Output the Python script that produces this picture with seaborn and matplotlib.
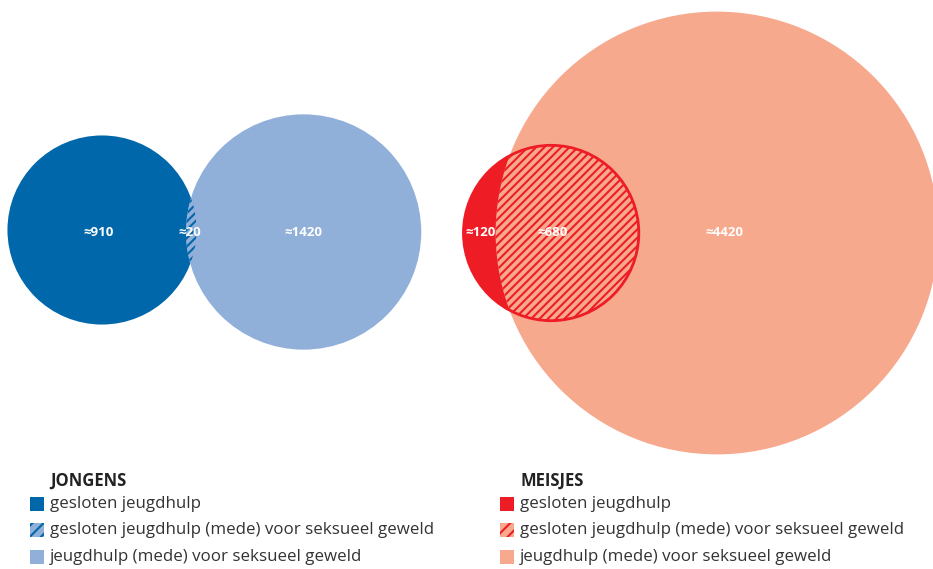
import numpy as np
import matplotlib
matplotlib.use('Agg')
import matplotlib.pyplot as plt
from matplotlib.patches import Circle, Rectangle
import seaborn as sns

# counts per group: only set A, overlap, only set B
jongens_counts = [910, 20, 1420]
meisjes_counts = [120, 680, 4420]
legend_labels = ['gesloten jeugdhulp',
                 'gesloten jeugdhulp (mede) voor seksueel geweld',
                 'jeugdhulp (mede) voor seksueel geweld']
group_titles = ['JONGENS', 'MEISJES']

blue_dark, blue_light = '#0067AB', '#90AFD9'
red, salmon = '#EE1C25', '#F7A98D'

sns.set_style('white')
plt.rcParams['font.family'] = ['Open Sans', 'DejaVu Sans']
plt.rcParams['hatch.linewidth'] = 1.5

K = 3.1  # px per sqrt(count)


def lens_area(r1, r2, d):
    if d >= r1 + r2:
        return 0.0
    if d <= abs(r1 - r2):
        return np.pi * min(r1, r2) ** 2
    a1 = r1**2 * np.arccos((d**2 + r1**2 - r2**2) / (2 * d * r1))
    a2 = r2**2 * np.arccos((d**2 + r2**2 - r1**2) / (2 * d * r2))
    a3 = 0.5 * np.sqrt((-d + r1 + r2) * (d + r1 - r2) * (d - r1 + r2) * (d + r1 + r2))
    return a1 + a2 - a3


def solve_dist(r1, r2, target):
    lo, hi = abs(r1 - r2) + 1e-6, r1 + r2
    for _ in range(80):
        mid = (lo + hi) / 2
        if lens_area(r1, r2, mid) > target:
            lo = mid
        else:
            hi = mid
    return (lo + hi) / 2


fig = plt.figure(figsize=(9.33, 5.69), dpi=100)
ax = fig.add_axes([0, 0, 1, 1])
ax.set_xlim(0, 933)
ax.set_ylim(569, 0)
ax.set_aspect('equal')
ax.axis('off')

lab_kw = dict(color='white', fontsize=9.5, fontweight='bold', ha='center', va='center')

# ---- jongens ----
a, ab, b = jongens_counts
rA = K * np.sqrt(a + ab)
rB = K * np.sqrt(b + ab)
dJ = solve_dist(rA, rB, np.pi * K**2 * ab)
cA = (102, 230)
cB = (102 + dJ + 2, 232)
circA = Circle(cA, rA, fc=blue_dark, ec='none')
circB = Circle(cB, rB, fc=blue_light, ec='none')
ax.add_patch(circA)
ax.add_patch(circB)
hatchA = Circle(cA, rA, fc=blue_light, ec=blue_dark, lw=0, hatch='////')
ax.add_patch(hatchA)
hatchA.set_clip_path(circB)
ax.text(cA[0] - 3, 232, f'≈{a}', **lab_kw)
ax.text((cB[0] - rB + cA[0] + rA) / 2 - 1, 232, f'≈{ab}', **lab_kw)
ax.text(cB[0], 232, f'≈{b}', **lab_kw)

# ---- meisjes ----
a, ab, b = meisjes_counts
rA = K * np.sqrt(a + ab)
rB = K * np.sqrt(b + ab)
dM = solve_dist(rA, rB, np.pi * K**2 * ab)
cB = (717, 233)
cA = (717 - dM, 233)
circB = Circle(cB, rB, fc=salmon, ec='none')
circA = Circle(cA, rA, fc=red, ec='none')
ax.add_patch(circB)
ax.add_patch(circA)
hatchA = Circle(cA, rA, fc=salmon, ec=red, lw=0, hatch='////')
ax.add_patch(hatchA)
hatchA.set_clip_path(circB)
ax.add_patch(Circle(cA, rA, fc='none', ec=red, lw=2))
ax.text((cA[0] - rA + cB[0] - rB) / 2 + 1, 232, f'≈{a}', **lab_kw)
ax.text(cA[0] + 1, 232, f'≈{ab}', **lab_kw)
ax.text(cB[0] + 7, 232, f'≈{b}', **lab_kw)

# ---- legends ----
legend_sets = [(30, [blue_dark, blue_light]), (500, [red, salmon])]
row_y = [504, 530, 557]
for (x0, (dark, light)), title in zip(legend_sets, group_titles):
    ax.text(x0 + 20, 481, title, fontsize=12, fontweight='bold', color='#222222',
            ha='left', va='center')
    styles = [dict(fc=dark, ec='none'),
              dict(fc=light, ec=dark, lw=0, hatch='///'),
              dict(fc=light, ec='none')]
    for y, lbl, st in zip(row_y, legend_labels, styles):
        ax.add_patch(Rectangle((x0, y - 7), 14, 14, **st))
        ax.text(x0 + 20, y, lbl, fontsize=12.2, color='#333333', ha='left', va='center')

fig.savefig('out.png', dpi=100)
